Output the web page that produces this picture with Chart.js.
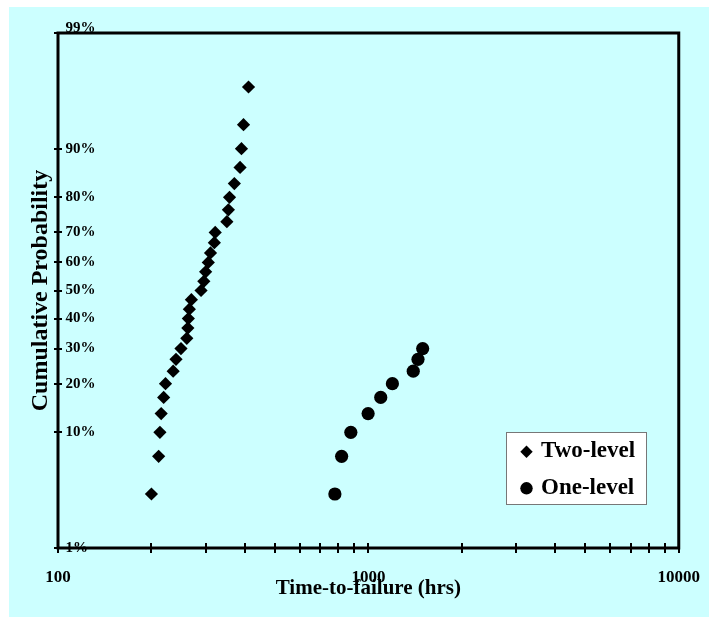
<!DOCTYPE html>
<html>
<head>
<meta charset="utf-8">
<title>Time-to-failure probability plot</title>
<script src="https://cdn.jsdelivr.net/npm/chart.js@4.4.1/dist/chart.umd.min.js"></script>
<style>
  html, body { margin: 0; padding: 0; background: #fff; }
  #wrap { width: 719px; height: 617px; }
</style>
</head>
<body>
<div id="wrap"><canvas id="probPlot" width="719" height="617"></canvas></div>
<script>
/* --------------- Failure Times (hrs) And Cumulative Probability (%) --------------------- */

const twoLevelHours = [200, 211, 213, 215, 219, 222, 235, 240, 249, 260, 262, 263, 265, 269, 289,
  295, 299, 305, 310, 319, 321, 350, 354, 357, 370, 386, 390, 396, 411];
const twoLevelProb = [3.3, 6.7, 10.0, 13.3, 16.7, 20.0, 23.3, 26.7, 30.0, 33.3, 36.7, 40.0, 43.3, 46.7, 50.0,
  53.3, 56.7, 60.0, 63.3, 66.7, 70.0, 73.3, 76.7, 80.0, 83.3, 86.7, 90.0, 93.3, 96.7];

const oneLevelHours = [780, 820, 878, 998, 1096, 1195, 1395, 1445, 1496];
const oneLevelProb = [3.3, 6.7, 10.0, 13.3, 16.7, 20.0, 23.3, 26.7, 30.0];

/* --------------- Axis Ticks --------------------- */

const probTicks = [1, 10, 20, 30, 40, 50, 60, 70, 80, 90, 99];
const hourTicks = [100, 200, 300, 400, 500, 600, 700, 800, 900,
  1000, 2000, 3000, 4000, 5000, 6000, 7000, 8000, 9000, 10000];
const hourLabels = [100, 1000, 10000];

const serif = "'Liberation Serif', 'Times New Roman', serif";

/* --------------- Normal Probability Scale --------------------- */

// inverse of the standard normal cdf (Acklam's approximation)
function probit(p) {
  const a = [-39.69683028665376, 220.9460984245205, -275.9285104469687, 138.3577518672690, -30.66479806614716, 2.506628277459239];
  const b = [-54.47609879822406, 161.5858368580409, -155.6989798598866, 66.80131188771972, -13.28068155288572];
  const c = [-0.007784894002430293, -0.3223964580411365, -2.400758277161838, -2.549732539343734, 4.374664141464968, 2.938163982698783];
  const d = [0.007784695709041462, 0.3224671290700398, 2.445134137142996, 3.754408661907416];
  const tail = (q) => (((((c[0] * q + c[1]) * q + c[2]) * q + c[3]) * q + c[4]) * q + c[5]) /
    ((((d[0] * q + d[1]) * q + d[2]) * q + d[3]) * q + 1);
  if (p < 0.02425) return tail(Math.sqrt(-2 * Math.log(p)));
  if (p > 1 - 0.02425) return -tail(Math.sqrt(-2 * Math.log(1 - p)));
  const q = p - 0.5, r = q * q;
  return (((((a[0] * r + a[1]) * r + a[2]) * r + a[3]) * r + a[4]) * r + a[5]) * q /
    (((((b[0] * r + b[1]) * r + b[2]) * r + b[3]) * r + b[4]) * r + 1);
}

class ProbabilityScale extends Chart.LinearScale {
  static id = "probability";

  buildTicks() {
    return probTicks.map((value) => ({ value }));
  }

  getPixelForValue(value) {
    const lo = probit(this.min / 100);
    const hi = probit(this.max / 100);
    return this.getPixelForDecimal((probit(value / 100) - lo) / (hi - lo));
  }
}
Chart.register(ProbabilityScale);

/* --------------- Plugins --------------------- */

const backdrop = {
  id: "backdrop",
  beforeDraw(chart) {
    const { ctx, width, height } = chart;
    ctx.save();
    ctx.fillStyle = "#ffffff";
    ctx.fillRect(0, 0, width, height);
    ctx.fillStyle = "#CCFFFF";
    ctx.fillRect(9, 7, 700, height - 7);
    ctx.restore();
  },
};

// plot frame plus tick marks that cross the axes
const frame = {
  id: "frame",
  beforeDatasetsDraw(chart) {
    const { ctx, chartArea: a, scales } = chart;
    ctx.save();
    ctx.strokeStyle = "#000";
    ctx.lineWidth = 3;
    ctx.strokeRect(a.left, a.top, a.right - a.left, a.bottom - a.top);
    ctx.lineWidth = 2;
    ctx.beginPath();
    scales.x.ticks.forEach((t) => {
      const px = Math.round(scales.x.getPixelForValue(t.value));
      ctx.moveTo(px, a.bottom - 5);
      ctx.lineTo(px, a.bottom + 5);
    });
    scales.y.ticks.forEach((t) => {
      const py = Math.round(scales.y.getPixelForValue(t.value));
      ctx.moveTo(a.left - 4, py);
      ctx.lineTo(a.left + 4, py);
    });
    ctx.stroke();
    ctx.restore();
  },
};

const legendBox = {
  id: "legendBox",
  afterDatasetsDraw(chart) {
    const { ctx } = chart;
    ctx.save();
    ctx.fillStyle = "#fff";
    ctx.fillRect(506, 432, 140, 72);
    ctx.strokeStyle = "#777";
    ctx.lineWidth = 1;
    ctx.strokeRect(506.5, 432.5, 140, 72);
    ctx.font = `bold 23px ${serif}`;
    ctx.textBaseline = "alphabetic";
    ctx.textAlign = "left";
    chart.data.datasets.forEach((ds, i) => {
      const cy = 451.7 + i * 36.6;
      ctx.fillStyle = "#000";
      Chart.helpers.drawPoint(ctx, { pointStyle: ds.pointStyle, radius: 6.2, rotation: 0, borderWidth: 0 }, 526.5, cy);
      ctx.fillText(ds.label, 541, cy + 5.5);
    });
    ctx.restore();
  },
};

/* --------------- Chart --------------------- */

const tickFont = { family: serif, size: 15, weight: "bold" };

let probChart = new Chart(document.getElementById("probPlot"), {
  type: "scatter",
  plugins: [backdrop, frame, legendBox],
  data: {
    datasets: [
      {
        label: "Two-level",
        data: twoLevelHours.map((t, i) => ({ x: t, y: twoLevelProb[i] })),
        pointStyle: "rectRot",
        pointRadius: 6.6,
        backgroundColor: "#000",
        borderColor: "#000",
        borderWidth: 0,
      },
      {
        label: "One-level",
        data: oneLevelHours.map((t, i) => ({ x: t, y: oneLevelProb[i] })),
        pointStyle: "circle",
        pointRadius: 6.6,
        backgroundColor: "#000",
        borderColor: "#000",
        borderWidth: 0,
      },
    ],
  },
  options: {
    responsive: false,
    animation: false,
    events: [],
    layout: { padding: { left: 0, top: 33, right: 39, bottom: 0 } },
    plugins: {
      legend: { display: false },
      tooltip: { enabled: false },
    },
    scales: {
      x: {
        type: "logarithmic",
        min: 100,
        max: 10000,
        afterBuildTicks: (s) => {
          s.ticks = hourTicks.map((value) => ({ value }));
        },
        afterFit: (s) => {
          s.height = 69;
        },
        grid: { display: false, drawTicks: false },
        border: { display: false },
        ticks: {
          autoSkip: false,
          maxRotation: 0,
          padding: 19,
          color: "#000",
          font: { family: serif, size: 17, weight: "bold" },
          callback: (v) => (hourLabels.includes(v) ? String(v) : ""),
        },
        title: {
          display: true,
          text: "Time-to-failure (hrs)",
          color: "#000",
          font: { family: serif, size: 21, weight: "bold" },
          padding: { top: 0, bottom: 16 },
        },
      },
      y: {
        type: "probability",
        min: 1,
        max: 99,
        afterFit: (s) => {
          s.width = 58;
        },
        grid: { display: false, drawTicks: false },
        border: { display: false },
        ticks: {
          mirror: true,
          padding: 7.5,
          color: "#000",
          font: (ctx) => (ctx.tick && ctx.tick.value === 99 ? { ...tickFont, lineHeight: 0.6 } : tickFont),
          callback: (v) => (v === 99 ? ["99%", ""] : v + "%"),
        },
        title: {
          display: true,
          text: "Cumulative Probability",
          color: "#000",
          font: { family: serif, size: 24, weight: "bold" },
          padding: { top: 26.7, bottom: 0 },
        },
      },
    },
  },
});
</script>
</body>
</html>
